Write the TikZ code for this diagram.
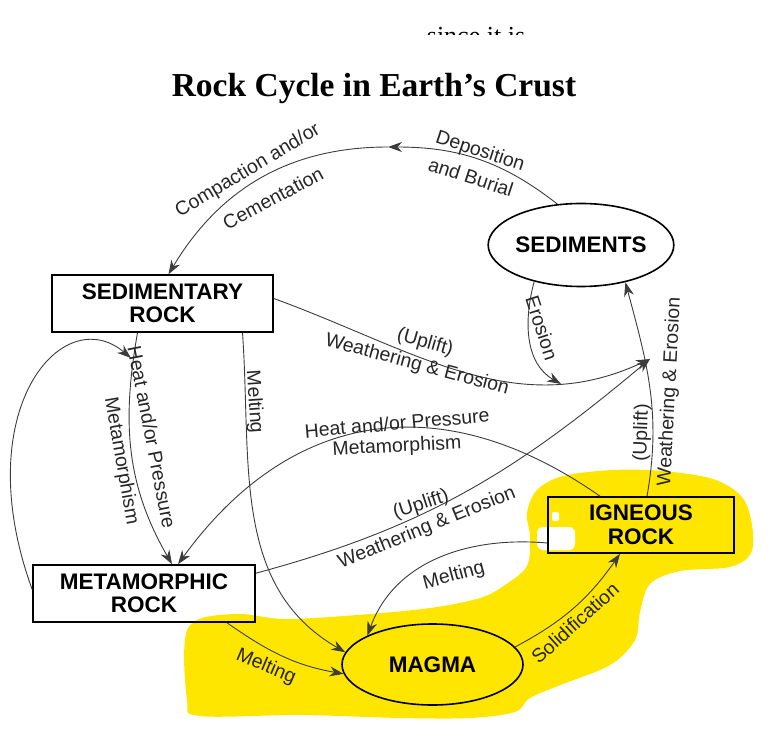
\documentclass[tikz,border=0pt]{standalone}
\usepackage{fontspec}
\setmainfont{Liberation Serif}
\setsansfont{Liberation Sans}
\usetikzlibrary{arrows.meta,calc,shapes.geometric}
\definecolor{hilite}{RGB}{255,230,0}
\definecolor{arcgray}{RGB}{60,60,60}
\tikzset{
  >={Stealth[length=14pt,width=10pt,inset=4.5pt]},
  box/.style={rectangle,draw,line width=1.6pt,inner sep=0pt,align=center,font=\sffamily\bfseries\fontsize{22.5}{23.5}\selectfont},
  oval/.style={ellipse,draw,line width=1.6pt,inner sep=0pt,font=\sffamily\bfseries\fontsize{22.5}{23.5}\selectfont},
  conn/.style={->,draw=arcgray,line width=0.9pt},
  lbl/.style={font=\sffamily\fontsize{19.5}{21}\selectfont,inner sep=0pt,text=black!85},
}
\begin{document}
\begin{tikzpicture}[x=1pt,y=1pt]
\useasboundingbox (0,0) rectangle (774,-751);
% highlighter marks
\fill[hilite] plot[smooth cycle,tension=0.55] coordinates {(188,-628) (233,-614) (285,-619) (357,-615) (430,-608) (480,-598) (505,-585) (527,-566) (530,-537) (527,-513) (537,-490) (563,-476) (613,-470) (663,-471) (713,-479) (742,-497) (752,-525) (751,-553) (730,-567) (680,-571) (650,-584) (640,-612) (636,-638) (620,-658) (600,-670) (563,-684) (530,-698) (515,-712) (470,-718) (400,-718) (300,-715) (200,-716) (187,-700)};
\fill[white,rounded corners=6pt] (537,-527) rectangle (575,-550);
\fill[white,rounded corners=2pt] (552,-512) rectangle (559,-521);
% header
\begin{scope} \clip (0,-35) rectangle (774,0);
\node[font=\fontsize{26}{28}\selectfont,anchor=base] (since) at (476,-45) {since it is};
\end{scope}
\node[font=\bfseries\fontsize{33.5}{36}\selectfont,anchor=base] (title) at (374,-97) {Rock Cycle in Earth’s Crust};
% rocks
\node[oval,minimum width=184pt,minimum height=83pt] (sedi) at (581,-245) {SEDIMENTS};
\node[box,minimum width=221pt,minimum height=57pt] (sr) at (162.5,-303.5) {SEDIMENTARY\\ROCK};
\node[box,minimum width=222pt,minimum height=57pt] (mr) at (144,-593.5) {METAMORPHIC\\ROCK};
\node[box,minimum width=186pt,minimum height=56pt] (ir) at (641,-525) {IGNEOUS\\ROCK};
\node[oval,minimum width=181pt,minimum height=81pt] (mag) at (432.5,-664.5) {MAGMA};
\coordinate (dep) at (388,-147); \coordinate (ero) at (561,-384);
\coordinate (wtip) at (650,-359); \coordinate (hp) at (131,-358);
% connectors
\draw[conn] (sedi.120) to[out=142,in=0] (dep);
\draw[conn] (dep) to[out=180,in=59] ([xshift=6pt]sr.north);
\draw[conn] (sedi.218) to[out=-105,in=150] (ero);
\draw[conn] ([yshift=5pt]sr.east) to[out=-20,in=205] (wtip);
\draw[conn] ([yshift=-9pt]mr.north east) to[out=15,in=220] (wtip);
\draw[conn] ([xshift=6pt]ir.north) to[out=80,in=-75] (sedi.-40);
\draw[conn] ([xshift=-25pt]sr.south) to[out=-100,in=120] ([xshift=28pt]mr.north);
\draw[conn] ([yshift=4pt]mr.west) .. controls +(110:190) and +(140:90) .. (hp);
\draw[conn] ([xshift=80pt]sr.south) to[out=-86,in=150] (mag.172);
\draw[conn] ([xshift=-41pt]ir.north) to[out=145,in=54,looseness=1.15] ([xshift=34pt]mr.north);
\draw[conn] ([xshift=83pt]mr.south) to[out=-35,in=170] (mag.186);
\draw[conn] ([yshift=-18pt]ir.west) to[out=175,in=70] (mag.156);
\draw[conn] (mag.12) to[out=28,in=235] ([xshift=-21pt]ir.south);
% labels
\node[lbl,rotate=-18] (lDep) at (480,-152) {Deposition};
\node[lbl,rotate=-18] (lBur) at (471,-177) {and Burial};
\node[lbl,rotate=31] (lCom) at (248,-171) {Compaction and/or};
\node[lbl,rotate=28] (lCem) at (273,-198) {Cementation};
\node[lbl,rotate=-72] (lEro) at (542,-328) {Erosion};
\node[lbl,rotate=-16] (lUp1) at (425,-343) {(Uplift)};
\node[lbl,rotate=-15] (lWe1) at (417,-365) {Weathering \& Erosion};
\node[lbl,rotate=-86] (lMel1) at (254,-402) {Melting};
\node[lbl,rotate=-79] (lHp1) at (152,-437) {Heat and/or Pressure};
\node[lbl,rotate=-80] (lMet1) at (121,-461) {Metamorphism};
\node[lbl,rotate=5] (lHp2) at (397,-423) {Heat and/or Pressure};
\node[lbl,rotate=3] (lMet2) at (397,-447) {Metamorphism};
\node[lbl,rotate=18] (lUp2) at (421,-505) {(Uplift)};
\node[lbl,rotate=22] (lWe2) at (427,-528) {Weathering \& Erosion};
\node[lbl,rotate=15] (lMel2) at (454,-576) {Melting};
\node[lbl,rotate=-23] (lMel3) at (266,-667) {Melting};
\node[lbl,rotate=42] (lSol) at (575,-623) {Solidification};
\node[lbl,rotate=88] (lUp3) at (642,-433) {(Uplift)};
\node[lbl,rotate=87] (lWe3) at (670,-392) {Weathering \& Erosion};
\end{tikzpicture}
\end{document}
